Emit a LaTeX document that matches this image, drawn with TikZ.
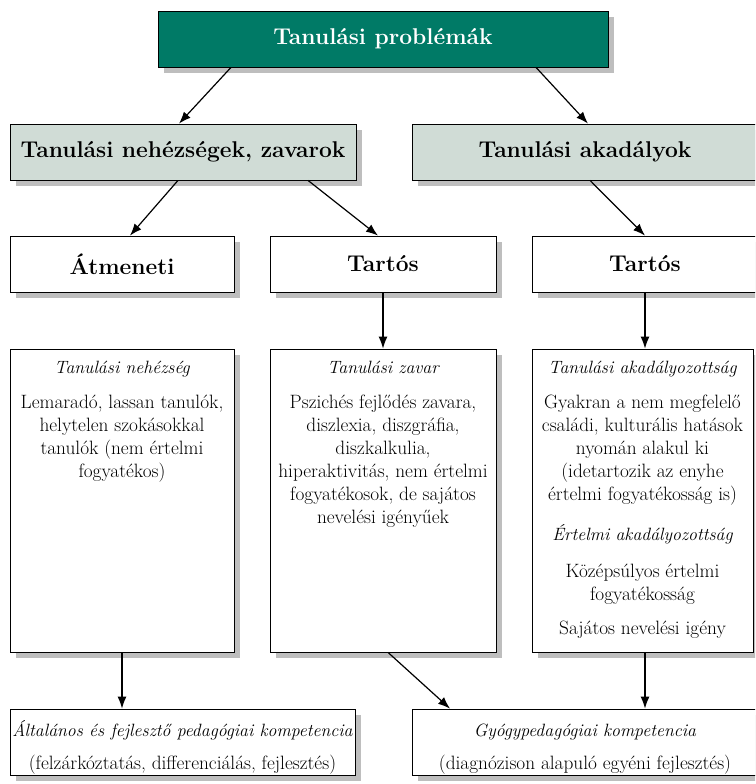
\documentclass[tikz,border=0pt]{standalone}
\usepackage{fontspec}
\usetikzlibrary{arrows.meta,shadows}
\definecolor{teal1}{RGB}{0,122,102}
\definecolor{pale}{RGB}{208,220,214}
\definecolor{shade}{RGB}{190,190,190}
\tikzset{
  box/.style={draw=black, line width=0.8pt, inner sep=0pt, fill=white,
    drop shadow={shadow xshift=6pt, shadow yshift=-6pt, fill=shade, opacity=1}},
  bigfont/.style={font=\fontsize{22.8}{27}\selectfont\bfseries},
  bodyfont/.style={font=\fontsize{19.3}{23}\selectfont},
  itfont/.style={font=\fontsize{17.8}{22}\selectfont\itshape},
  txt/.style={inner sep=0pt, align=center, anchor=base},
  arr/.style={line width=1.2pt, -{Latex[length=12pt,width=9pt]}}
}
\begin{document}
\begin{tikzpicture}[x=1pt,y=-1pt]
\useasboundingbox (0,0) rectangle (755,784);
\clip (0,0) rectangle (755,784);
% level 1
\node[box, fill=teal1, minimum width=450pt, minimum height=56pt, bigfont, text=white] (top) at (383,39) {Tanulási problémák};
% level 2
\node[box, fill=pale, minimum width=346pt, minimum height=56pt, bigfont] (nehez) at (183,152) {Tanulási nehézségek, zavarok};
\node[box, fill=pale, minimum width=346pt, minimum height=56pt, bigfont] (akad) at (585,152) {Tanulási akadályok};
% level 3
\node[box, minimum width=224pt, minimum height=56pt, bigfont] (atm) at (122,264) {Átmeneti};
\node[box, minimum width=226pt, minimum height=56pt, bigfont] (tart1) at (383,264) {Tartós};
\node[box, minimum width=226pt, minimum height=56pt, bigfont] (tart2) at (645,264) {Tartós};
% level 4 boxes
\node[box, minimum width=224pt, minimum height=303pt] (big1) at (122,500.5) {};
\node[box, minimum width=226pt, minimum height=303pt] (big2) at (383,500.5) {};
\node[box, minimum width=221pt, minimum height=303pt] (big3) at (642.5,500.5) {};
% level 5 boxes
\node[box, minimum width=345pt, minimum height=66pt] (bot1) at (182.5,742) {};
\node[box, minimum width=346pt, minimum height=66pt] (bot2) at (585,742) {};
% texts in big boxes (base anchor = baseline of last line)
\node[txt, itfont] (h1) at (122,373) {Tanulási nehézség};
\node[txt, bodyfont] (b1) at (122,477) {Lemaradó, lassan tanulók,\\helytelen szokásokkal\\tanulók (nem értelmi\\fogyatékos)};
\node[txt, itfont] (h2) at (383,373) {Tanulási zavar};
\node[txt, bodyfont] (b2) at (383,523) {Pszichés fejlődés zavara,\\diszlexia, diszgráfia,\\diszkalkulia,\\hiperaktivitás, nem értelmi\\fogyatékosok, de sajátos\\nevelési igényűek};
\node[txt, itfont] (h3) at (642.5,373) {Tanulási akadályozottság};
\node[txt, bodyfont] (b3) at (642.5,500) {Gyakran a nem megfelelő\\családi, kulturális hatások\\nyomán alakul ki\\(idetartozik az enyhe\\értelmi fogyatékosság is)};
\node[txt, itfont] (h4) at (642.5,540) {Értelmi akadályozottság};
\node[txt, bodyfont] (b4) at (642.5,600) {Középsúlyos értelmi\\fogyatékosság};
\node[txt, bodyfont] (b5) at (642.5,634) {Sajátos nevelési igény};
% texts in bottom boxes
\node[txt, itfont] (h5) at (182.5,736) {Általános és fejlesztő pedagógiai kompetencia};
\node[txt, bodyfont] (b6) at (182.5,769) {(felzárkóztatás, differenciálás, fejlesztés)};
\node[txt, itfont] (h6) at (585,736) {Gyógypedagógiai kompetencia};
\node[txt, bodyfont] (b7) at (585,769) {(diagnózison alapuló egyéni fejlesztés)};
% arrows
\draw[arr] ([xshift=-152pt]top.south) -- ([xshift=-4pt]nehez.north);
\draw[arr] ([xshift=153pt]top.south) -- ([xshift=3pt]akad.north);
\draw[arr] ([xshift=-5pt]nehez.south) -- ([xshift=8pt]atm.north);
\draw[arr] ([xshift=125pt]nehez.south) -- ([xshift=-5pt]tart1.north);
\draw[arr] ([xshift=5pt]akad.south) -- (tart2.north);
\draw[arr] (tart1.south) -- (big2.north);
\draw[arr] (tart2.south) -- (tart2.south |- big3.north);
\draw[arr] (big1.south) -- (big1.south |- bot1.north);
\draw[arr] ([xshift=5pt]big2.south) -- ([xshift=-135pt]bot2.north);
\draw[arr] ([xshift=2.5pt]big3.south) -- ([xshift=60pt]bot2.north);
\end{tikzpicture}
\end{document}
